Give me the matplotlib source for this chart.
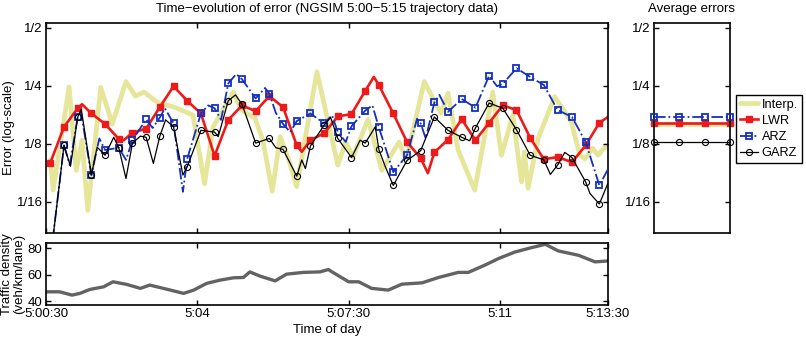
import numpy as np
import matplotlib
matplotlib.use('Agg')
import matplotlib.pyplot as plt

plt.rcParams['font.family'] = ['Liberation Sans', 'DejaVu Sans']
plt.rcParams['axes.unicode_minus'] = True

# ---------------- data (time in seconds after 5:00:00) ----------------
marker_t = [36, 55, 74, 93, 112, 131, 150, 169, 188, 207, 226, 245, 264, 283, 302, 321,
            340, 359, 378, 397, 416, 435, 454, 473, 492, 512, 531, 550, 569, 588, 607,
            626, 645, 664, 683, 702, 721, 740, 760, 779, 798]

# errors are stored as log2(error)
interp_t = [36, 40, 62, 72, 80, 88, 106, 122, 141, 154, 166, 186, 208, 227, 234, 250, 262,
            290, 301, 320, 331, 344, 355, 367, 378, 406, 435, 446, 456, 477, 496, 520, 530,
            555, 571, 578, 588, 602, 625, 650, 662, 678, 690, 694, 699, 713, 736, 759, 771,
            778, 789, 796, 808]
interp_log2 = [-3.28, -3.80, -2.02, -3.46, -2.94, -4.15, -2.03, -2.66, -1.93, -2.18, -2.11,
               -2.30, -2.37, -2.47, -2.51, -3.69, -2.71, -2.11, -2.42, -2.56, -2.94, -3.82,
               -2.88, -3.28, -3.74, -1.76, -3.37, -2.97, -3.23, -2.58, -3.46, -2.97, -3.28,
               -1.93, -2.31, -2.48, -2.13, -3.11, -3.80, -2.11, -3.20, -2.51, -3.66, -3.14,
               -3.77, -2.91, -2.19, -2.62, -3.20, -3.26, -3.08, -3.20, -3.03]

lwr_t = [36, 55, 74, 80, 93, 112, 131, 138, 150, 169, 188, 207, 226, 245, 264, 283, 302, 321,
         340, 359, 378, 385, 397, 416, 435, 454, 473, 485, 492, 512, 531, 550, 560, 569, 588,
         607, 626, 645, 664, 683, 702, 721, 740, 760, 779, 798, 810]
lwr_log2 = [-3.33, -2.71, -2.39, -2.32, -2.48, -2.66, -2.92, -2.94, -2.81, -2.74, -2.37, -2.01,
            -2.26, -2.48, -3.21, -2.59, -2.34, -2.44, -2.18, -2.37, -3.03, -3.14, -2.94, -2.82,
            -2.53, -2.49, -2.09, -1.85, -1.99, -2.48, -2.97, -3.25, -3.51, -3.15, -2.93, -2.58,
            -2.94, -2.64, -2.34, -2.42, -2.90, -3.27, -3.23, -3.32, -3.03, -2.64, -2.54]

arz_t = [36, 55, 63, 74, 78, 93, 104, 112, 131, 141, 150, 169, 178, 188, 195, 207, 220, 226,
         245, 255, 264, 273, 283, 294, 302, 321, 334, 340, 349, 359, 369, 378, 397, 416, 427,
         435, 446, 454, 473, 483, 492, 512, 531, 545, 550, 557, 569, 576, 588, 607, 626, 645,
         656, 664, 683, 702, 721, 740, 760, 779, 798, 810]
arz_log2 = [-5.0, -3.03, -3.37, -2.54, -2.42, -3.54, -2.91, -3.11, -3.07, -3.28, -2.94, -2.58,
            -2.73, -2.55, -2.39, -2.65, -3.83, -3.26, -2.48, -2.34, -2.39, -2.59, -1.96, -1.80,
            -1.89, -2.22, -2.04, -2.14, -2.47, -2.66, -2.80, -2.61, -2.48, -2.65, -2.51, -2.80,
            -2.97, -2.70, -2.43, -2.34, -2.72, -3.49, -3.20, -2.57, -2.65, -2.91, -2.29, -2.16,
            -2.45, -2.23, -2.38, -1.83, -2.01, -1.97, -1.70, -1.85, -1.99, -2.42, -2.54, -2.97,
            -3.72, -3.44]

garz_t = [36, 55, 64, 74, 79, 93, 101, 112, 124, 131, 141, 150, 161, 169, 179, 188, 196, 207,
          220, 226, 245, 264, 269, 283, 293, 302, 321, 340, 349, 359, 378, 385, 390, 397, 416,
          425, 435, 454, 466, 473, 487, 492, 501, 512, 531, 550, 569, 588, 607, 618, 626, 645,
          664, 683, 702, 721, 730, 740, 750, 760, 779, 785, 798, 810]
garz_log2 = [-5.0, -3.03, -3.39, -2.54, -2.41, -3.54, -3.06, -3.20, -2.89, -3.07, -3.60, -2.99,
             -2.87, -2.89, -3.34, -2.87, -2.59, -2.71, -3.54, -3.40, -2.77, -2.80, -2.88, -2.26,
             -2.16, -2.32, -2.99, -2.91, -3.07, -3.10, -3.56, -3.28, -3.43, -3.04, -2.68, -2.55,
             -2.91, -3.24, -2.94, -2.99, -2.71, -3.10, -3.40, -3.72, -3.29, -3.12, -2.54, -2.77,
             -2.89, -2.95, -2.73, -2.30, -2.39, -2.76, -3.20, -3.28, -3.53, -3.37, -3.15, -3.24,
             -3.66, -3.86, -4.04, -3.68]

# average errors (log2)
avg_x = [1, 2, 3, 4]
avg_interp = -2.66
avg_lwr = -2.64
avg_arz = -2.54
avg_garz = -2.97

# traffic density (veh/km/lane)
dens_t = [30, 49, 66, 77, 91, 110, 123, 142, 161, 174, 193, 221, 235, 253, 272, 290, 304, 313,
          327, 348, 364, 387, 410, 422, 427, 450, 464, 482, 505, 524, 552, 575, 602, 616, 639,
          658, 681, 704, 723, 741, 769, 792, 810]
dens_v = [47.0, 47.0, 44.5, 45.8, 48.8, 50.8, 54.6, 52.6, 49.6, 52.1, 49.6, 45.8, 48.3, 53.4,
          55.9, 57.6, 57.9, 62.1, 58.9, 55.3, 60.4, 61.7, 62.1, 63.9, 62.1, 54.6, 54.6, 49.6,
          48.3, 52.8, 53.8, 57.9, 61.7, 61.7, 67.2, 72.2, 77.2, 80.5, 83.0, 78.0, 74.7, 69.7,
          70.4]

xtick_t = [30, 240, 450, 660, 810]
xtick_labels = ['5:00:30', '5:04', '5:07:30', '5:11', '5:13:30']
ytick_v = [0.5, 0.25, 0.125, 0.0625]
ytick_labels = ['1/2', '1/4', '1/8', '1/16']
dens_ticks = [40, 60, 80]

# ---------------- styles ----------------
C_INT = '#E6E69A'
C_LWR = '#EE1A1A'
C_ARZ = '#1530C0'
C_GARZ = 'black'

st_int = dict(color=C_INT, lw=3.4, solid_joinstyle='round', solid_capstyle='round')
st_lwr = dict(color=C_LWR, lw=1.9, marker='s', ms=4.0, mfc=C_LWR, mec=C_LWR,
              solid_joinstyle='round')
st_arz = dict(color=C_ARZ, lw=1.3, ls='-.', marker='s', ms=4.6, mfc='none', mec=C_ARZ,
              mew=1.3)
st_garz = dict(color=C_GARZ, lw=0.9, marker='o', ms=4.4, mfc='none', mec=C_GARZ, mew=0.8)


def marks(ts):
    return [i for i, t in enumerate(ts) if t in marker_t]


def style_axes(a):
    for s in a.spines.values():
        s.set_linewidth(1.2)
    a.tick_params(which='both', direction='in', length=3.5, width=1.0, top=True, right=True,
                  labelsize=9.5, pad=2.5, colors='black')
    a.tick_params(which='minor', length=0)


fig = plt.figure(figsize=(8.06, 3.39), dpi=100)
W, H = 806.0, 339.0
ax = fig.add_axes([46 / W, 1 - 233 / H, 562 / W, 210 / H])
axd = fig.add_axes([46 / W, 1 - 305 / H, 562 / W, 62 / H])
axr = fig.add_axes([654 / W, 1 - 233 / H, 76 / W, 210 / H])

ylo, yhi = 2 ** -4.54, 2 ** -0.92

# main plot
ax.plot(interp_t, 2.0 ** np.array(interp_log2), zorder=1, **st_int)
ax.plot(lwr_t, 2.0 ** np.array(lwr_log2), markevery=marks(lwr_t), zorder=2, **st_lwr)
ax.plot(arz_t, 2.0 ** np.array(arz_log2), markevery=marks(arz_t), zorder=3, **st_arz)
ax.plot(garz_t, 2.0 ** np.array(garz_log2), markevery=marks(garz_t), zorder=4, **st_garz)
ax.set_yscale('log', base=2)
ax.set_ylim(ylo, yhi)
ax.set_xlim(30, 810)
ax.set_yticks(ytick_v)
ax.set_yticklabels(ytick_labels)
ax.set_xticks(xtick_t)
ax.set_xticklabels([])
style_axes(ax)

# right: average errors
hi = axr.plot(avg_x, [2.0 ** avg_interp] * 4, clip_on=False, zorder=1, **st_int)[0]
hl = axr.plot(avg_x, [2.0 ** avg_lwr] * 4, clip_on=False, zorder=2, **st_lwr)[0]
ha = axr.plot(avg_x, [2.0 ** avg_arz] * 4, clip_on=False, zorder=3, **st_arz)[0]
hg = axr.plot(avg_x, [2.0 ** avg_garz] * 4, clip_on=False, zorder=4, **st_garz)[0]
axr.set_yscale('log', base=2)
axr.set_ylim(ylo, yhi)
axr.set_xlim(1, 4)
axr.set_yticks(ytick_v)
axr.set_yticklabels(ytick_labels)
axr.set_xticks([])
style_axes(axr)
axr.tick_params(top=False, bottom=False)

leg = fig.legend([hi, hl, ha, hg], ['Interp.', 'LWR', 'ARZ', 'GARZ'],
                 loc='upper left', bbox_to_anchor=(736 / W, 1 - 95 / H),
                 bbox_transform=fig.transFigure, fontsize=9.2, frameon=True,
                 fancybox=False, borderpad=0.3, labelspacing=0.32, handlelength=1.45,
                 handletextpad=0.25, borderaxespad=0, framealpha=1)
leg.get_frame().set_edgecolor('black')
leg.get_frame().set_linewidth(1.0)

# density
axd.plot(dens_t, dens_v, color='#636363', lw=2.4, solid_joinstyle='round')
axd.set_xlim(30, 810)
axd.set_ylim(37, 84)
axd.set_yticks(dens_ticks)
axd.set_xticks(xtick_t)
axd.set_xticklabels(xtick_labels)
style_axes(axd)

# texts
fig.text(327 / W, 1 - 9 / H, 'Time\u2212evolution of error (NGSIM 5:00\u22125:15 trajectory data)',
         ha='center', va='center', fontsize=9.5)
fig.text(692 / W, 1 - 9 / H, 'Average errors', ha='center', va='center', fontsize=9.5)
fig.text(9 / W, 1 - 128 / H, 'Error (log-scale)', rotation=90, ha='center', va='center',
         fontsize=9.5)
fig.text(13 / W, 1 - 274 / H, 'Traffic density\n(veh/km/lane)', rotation=90, ha='center',
         va='center', fontsize=9.5, linespacing=0.95)
fig.text(327 / W, 1 - 330 / H, 'Time of day', ha='center', va='center', fontsize=9.5)

fig.savefig('out.png', dpi=100)
